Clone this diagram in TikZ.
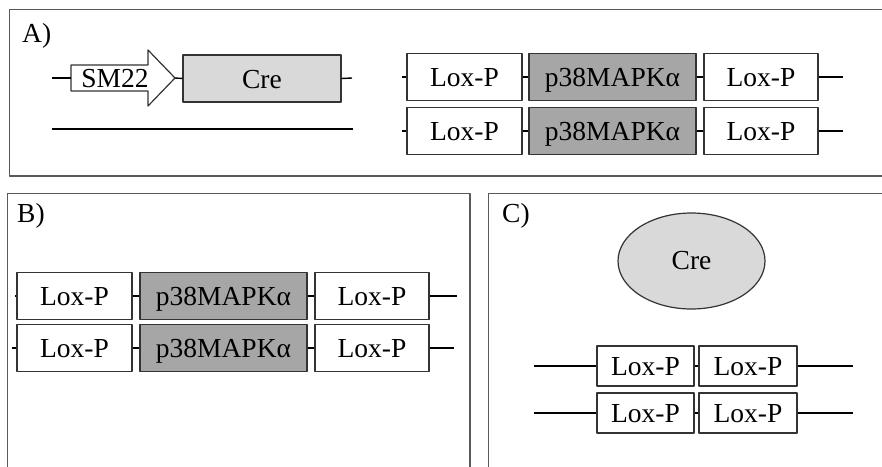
\documentclass[tikz,border=0pt]{standalone}
\usepackage{fontspec}
\setmainfont{Liberation Serif}
\usetikzlibrary{shapes.geometric}
\begin{document}
\begin{tikzpicture}[x=1pt,y=-1pt,line join=round,font=\fontsize{27.5}{32}\selectfont,
	box/.style={draw=black!80,line width=1.2pt,minimum height=47pt,inner sep=0pt,text height=25pt,text depth=6pt},
	lox/.style={box,fill=white,minimum width=115pt},
	gene/.style={box,fill=gray!70,minimum width=167pt},
	smlox/.style={box,fill=white,minimum width=97pt,minimum height=40pt},
	dna/.style={line width=1.4pt},
	frame/.style={draw=black!65,line width=1.3pt}]
	\clip (0,0) rectangle (882,466);
	% panels
	\draw[frame] (9.5,9.5) rectangle (895,176);
	\draw[frame] (7.5,193.5) rectangle (470,480);
	\draw[frame] (488.5,193.5) rectangle (895,480);
	\node[anchor=base west,inner sep=0pt] (la) at (22,42) {A)};
	\node[anchor=base west,inner sep=0pt] (lb) at (17,222) {B)};
	\node[anchor=base west,inner sep=0pt] (lc) at (502,222) {C)};
	% A) SM22-Cre
	\coordinate (s0) at (52,78);
	\coordinate (s1) at (71,78);
	\coordinate (tip) at (175,78);
	\draw[line width=1.2pt,draw=black!80,fill=white]
		(71,65)--(148,65)--(148,50)--(tip)--(148,106)--(148,91)--(71,91)--cycle;
	\node[text height=25pt,text depth=6pt] (sm) at (115,78) {SM22};
	\node[box,fill=black!15,minimum width=158pt] (cre) at (262,78.5) {Cre};
	\coordinate (s2) at (352,78);
	\draw[dna] (s0)--(s1);
	\draw[dna] (tip)--(cre.west);
	\draw[dna] (cre.east)--(s2);
	\coordinate (w0) at (52,129);
	\coordinate (w1) at (353,129);
	\draw[dna] (w0)--(w1);
	% A) floxed alleles
	\foreach \r/\y in {1/77,2/131}{
		\node[lox] (al\r) at (464.5,\y) {Lox-P};
		\node[gene] (ap\r) at (612.5,\y) {p38MAPKα};
		\node[lox,minimum width=114pt] (ar\r) at (761,\y) {Lox-P};
		\coordinate (ab\r) at (402,\y);
		\coordinate (ae\r) at (843,\y);
		\draw[dna] (ab\r)--(al\r.west);
		\draw[dna] (al\r.east)--(ap\r.west);
		\draw[dna] (ap\r.east)--(ar\r.west);
		\draw[dna] (ar\r.east)--(ae\r);
	}
	% B)
	\foreach \r/\y/\s/\e in {1/296/15/457,2/348/12/454}{
		\node[lox] (bl\r) at (74.5,\y) {Lox-P};
		\node[gene] (bp\r) at (223.5,\y) {p38MAPKα};
		\node[lox,minimum width=114pt] (br\r) at (372,\y) {Lox-P};
		\coordinate (bb\r) at (\s,\y);
		\coordinate (be\r) at (\e,\y);
		\draw[dna] (bb\r)--(bl\r.west);
		\draw[dna] (bl\r.east)--(bp\r.west);
		\draw[dna] (bp\r.east)--(br\r.west);
		\draw[dna] (br\r.east)--(be\r);
	}
	% C)
	\node[ellipse,draw=black!80,line width=1.2pt,fill=black!15,minimum width=147pt,minimum height=96pt] (crep) at (691.5,261) {Cre};
	\foreach \r/\y in {1/366,2/413}{
		\node[smlox] (cl\r) at (645.5,\y) {Lox-P};
		\node[smlox,minimum width=98pt] (cr\r) at (748,\y) {Lox-P};
		\coordinate (cb\r) at (534,\y);
		\coordinate (ce\r) at (853,\y);
		\draw[dna] (cb\r)--(cl\r.west);
		\draw[dna] (cl\r.east)--(cr\r.west);
		\draw[dna] (cr\r.east)--(ce\r);
	}
\end{tikzpicture}
\end{document}
